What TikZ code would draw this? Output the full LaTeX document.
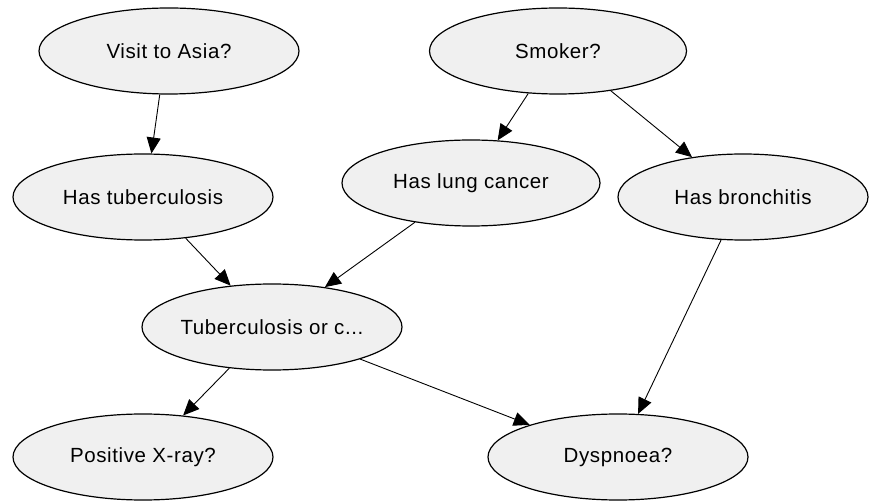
\documentclass[tikz,border=0pt]{standalone}
\usepackage{fontspec}
\setmainfont{Liberation Sans}[LetterSpace=3]
\usetikzlibrary{shapes.geometric,arrows.meta}
\definecolor{nodefill}{HTML}{F0F0F0}
\tikzset{
  bnode/.style={ellipse, draw=black, line width=1.2pt, fill=nodefill,
    minimum width=260pt, minimum height=86pt, inner sep=0pt,
    font=\fontsize{20.5}{24}\selectfont},
  edge/.style={draw=black, line width=0.9pt, -{Triangle[length=16pt,width=14pt]}}
}
\begin{document}
\begin{tikzpicture}[x=1pt,y=-1pt]
\useasboundingbox (0,0) rectangle (870,502);
\node[bnode] (asia) at (169,51) {Visit to Asia?};
\node[bnode, minimum width=257pt] (smoker) at (558,51) {Smoker?};
\node[bnode] (tub) at (143,197) {Has tuberculosis};
\node[bnode, minimum width=258pt] (lung) at (471,183) {Has lung cancer};
\node[bnode, minimum width=250pt] (bronc) at (743,197) {Has bronchitis};
\node[bnode] (either) at (272,327) {Tuberculosis or c...};
\node[bnode] (xray) at (143,457) {Positive X-ray?};
\node[bnode] (dysp) at (618,457) {Dyspnoea?};
\draw[edge] (asia.-102) -- (tub.79);
\draw[edge] (smoker.-125) -- (lung.58);
\draw[edge] (smoker.-37) -- (bronc.142);
\draw[edge] (tub.-44) -- (either.135);
\draw[edge] (lung.-145) -- (either.37);
\draw[edge] (either.-136) -- (xray.46);
\draw[edge] (either.-20) -- (dysp.160);
\draw[edge] (bronc.-117) -- (dysp.65.5);
\end{tikzpicture}
\end{document}
